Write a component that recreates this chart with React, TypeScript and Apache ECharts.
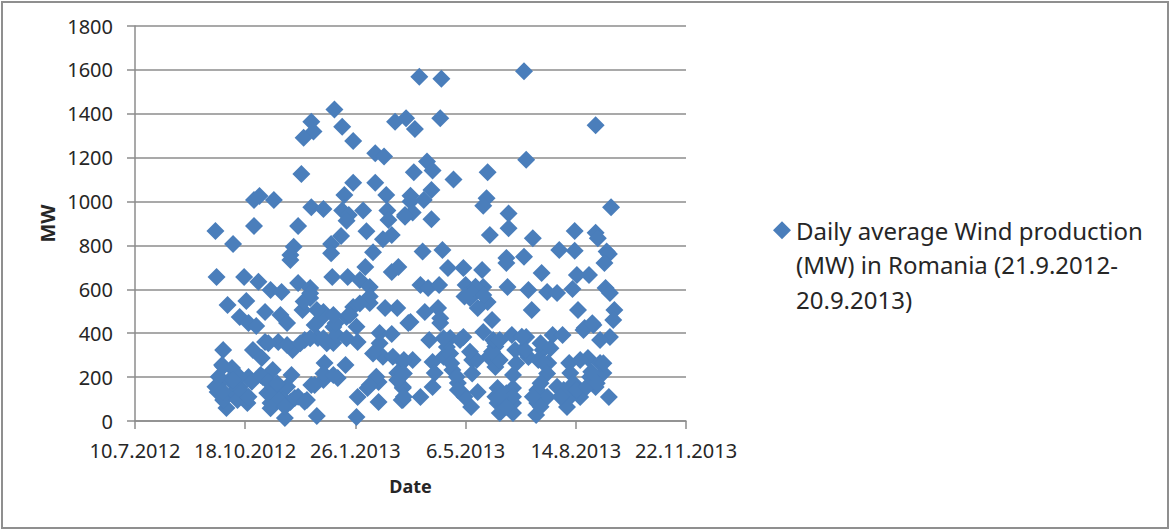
import React, { useEffect, useRef } from "react";
import * as echarts from "echarts";

// Excel-style serial number of 21.9.2012, the first day of the record
const firstDaySerial = 41173;

// Days after the first day of the record
const dayOffsets = [
  108, 87, 115, 89, 80, 125, 145, 153, 78, 125, 145, 40, 35, 53, 117, 155, 87, 98, 115, 121,
  134, 156, 157, 172, 119, 35, 75, 0, 16, 137, 114, 160, 152, 71, 105, 68, 105, 143,
  185, 205, 280, 345, 173, 181, 204, 282, 192, 197, 180, 216, 247, 196, 177, 189, 177, 246, 243, 359,
  179, 172, 196, 266, 266, 249, 288, 326, 345, 347, 188, 206, 312, 326, 355, 357, 264, 280,
  211, 225, 242, 264, 353, 296, 328, 339, 186, 193, 203, 227, 243, 265, 284, 301, 310, 324, 354, 358,
  231, 247, 238, 287, 329, 362, 361, 190, 202, 177, 204, 251, 243, 335, 343, 358, 349, 306, 315, 282,
  269, 254, 194, 213, 225, 210, 233, 254, 254, 279, 297, 302, 321, 338, 349, 352, 322, 197, 179, 170,
  199, 215, 220, 270, 284, 197, 186, 170, 170, 224, 238, 232, 256, 256, 258, 270, 270, 270, 292, 292,
  291, 301, 319, 319, 331, 345, 340, 357,
  1, 26, 39, 106, 120, 136, 131, 160, 166, 68, 75, 50, 60, 86, 140, 11, 28, 79, 86, 140,
  125, 154, 165, 45, 22, 30, 37, 59, 65, 98, 90, 107, 119, 175, 149, 160, 129, 107, 93, 81,
  57, 45, 34, 70, 42, 7, 6, 15, 99, 118, 69, 30, 43, 52, 4, 98, 111, 90, 148, 138,
  165, 170, 169, 129, 148, 2, 16, 10, 29, 50, 59, 83, 72, 63, 92, 128, 22, 13, 22, 7,
  20, 47, 56, 62, 68,
  7, 3, 0, 7, 16, 24, 30, 33, 41, 48, 51, 57, 50, 63, 75, 81, 65, 56,
  48, 65, 77, 86, 98, 110, 101, 119, 96, 109, 92, 107, 131, 122, 128, 80, 86, 140,
  165, 171, 171, 146, 140, 98, 107, 87, 152, 143, 161, 171, 149,
  170, 207, 207, 213, 214, 219, 226, 220, 233, 237, 231, 248, 258, 254, 251,
  272, 273, 281, 278, 293, 298, 301, 288, 295, 295, 310, 316, 325, 328, 319, 313,
  337, 346, 352, 341, 331, 264, 254, 270, 258, 264, 295, 304, 334, 342, 222, 252, 258,
  204, 236, 233, 243, 226, 163,
];

// Daily average output in MW, one value per entry of dayOffsets
const outputMw = [
  1420, 1364, 1341, 1319, 1291, 1276, 1220, 1205, 1126, 1086, 1086, 1025, 1007, 1007, 1030, 1030, 974, 966, 959, 939,
  959, 959, 916, 939, 913, 889, 889, 866, 807, 865, 843, 848, 828, 794, 807, 757, 764, 769,
  1569, 1560, 1594, 1348, 1380, 1331, 1380, 1190, 1182, 1141, 1133, 1101, 1133, 1053, 1027, 1007, 1000, 1015, 981, 974,
  950, 931, 919, 946, 878, 848, 833, 866, 858, 833, 772, 779, 779, 776, 772, 761, 743, 749,
  697, 697, 688, 720, 720, 675, 665, 665, 620, 606, 620, 620, 611, 611, 597, 588, 583, 602, 606, 583,
  561, 542, 515, 506, 506, 506, 460, 497, 515, 451, 447, 460, 406, 424, 438, 383, 369, 392, 392, 383,
  392, 355, 369, 378, 383, 337, 278, 292, 246, 324, 324, 264, 264, 287, 264, 219, 219, 269, 278, 269,
  219, 232, 173, 210, 292, 155, 109, 150, 96, 128, 132, 64, 150, 82, 36, 150, 82, 36, 141, 82,
  27, 109, 64, 128, 109, 155, 201, 109,
  656, 656, 634, 656, 656, 702, 643, 679, 702, 734, 629, 597, 588, 606, 611, 529, 547, 506, 561, 538,
  520, 515, 515, 497, 474, 447, 433, 483, 447, 497, 438, 428, 474, 447, 401, 397, 360, 355, 378, 369,
  360, 360, 324, 324, 287, 324, 255, 242, 264, 255, 210, 201, 201, 232, 173, 187, 196, 164, 178, 150,
  219, 155, 96, 109, 87, 132, 128, 59, 82, 82, 128, 96, 105, 14, 23, 18, 155, 187, 201, 96,
  96, 128, 141, 96, 87,
  248, 202, 156, 134, 187, 134, 111, 179, 210, 179, 119, 96, 58, 65, 111, 88, 156, 172,
  354, 346, 354, 377, 377, 392, 354, 377, 468, 445, 506, 483, 536, 483, 430, 544, 582, 567,
  187, 217, 111, 202, 164, 217, 210, 164, 293, 308, 293, 278, 354,
  217, 377, 293, 308, 263, 202, 111, 141, 217, 278, 316, 293, 278, 339, 316,
  324, 263, 324, 384, 278, 263, 217, 111, 172, 65, 156, 141, 172, 141, 96, 111,
  156, 172, 263, 225, 278, 126, 111, 111, 111, 65, 354, 331, 415, 445, 369, 369, 369,
  468, 612, 582, 574, 567, 1364,
];

const seriesName = "Daily average Wind production\n(MW) in Romania (21.9.2012-\n20.9.2013)";

// Turns an Excel-style serial number into d.m.yyyy
const serialToDate = (serial: number): string => {
  const d = new Date(Date.UTC(1899, 11, 30) + serial * 86400000);
  return `${d.getUTCDate()}.${d.getUTCMonth() + 1}.${d.getUTCFullYear()}`;
};

const textColor = "#262626";
const lineColor = "#8c8c8c";
const fontFamily = "'Noto Sans', sans-serif";

export default function App() {
  const ref = useRef<HTMLDivElement>(null);

  useEffect(() => {
    const chart = echarts.init(ref.current!, undefined, { renderer: "svg" });
    chart.setOption({
      animation: false,
      backgroundColor: "#ffffff",
      grid: { left: 135, right: 487, top: 26, bottom: 109, containLabel: false },
      graphic: [
        {
          type: "rect",
          shape: { x: 2, y: 2, width: 1166, height: 526 },
          style: { fill: "none", stroke: "#8f8f8f", lineWidth: 2 },
          silent: true,
        },
      ],
      legend: {
        left: 773,
        top: 144,
        icon: "diamond",
        itemWidth: 18,
        itemHeight: 18,
        itemGap: 0,
        padding: 0,
        selectedMode: false,
        // Two blank lines above the name keep the marker level with its first line
        formatter: (name: string) => `\n\n${name}`,
        textStyle: {
          color: textColor,
          fontFamily,
          fontSize: 24,
          lineHeight: 34.5,
        },
      },
      xAxis: {
        type: "value",
        min: 41100,
        max: 41600,
        interval: 100,
        name: "Date",
        nameLocation: "middle",
        nameGap: 56,
        nameTextStyle: { color: textColor, fontFamily, fontSize: 18, fontWeight: "bold" },
        axisLine: { show: true, onZero: false, lineStyle: { color: lineColor, width: 1.5 } },
        axisTick: { show: true, length: 8, lineStyle: { color: lineColor, width: 1.5 } },
        axisLabel: {
          color: textColor,
          fontFamily,
          fontSize: 20,
          margin: 19,
          showMinLabel: true,
          showMaxLabel: true,
          hideOverlap: false,
          formatter: (v: number) => serialToDate(v),
        },
        splitLine: { show: false },
      },
      yAxis: {
        type: "value",
        min: 0,
        max: 1800,
        interval: 200,
        name: "MW",
        nameLocation: "middle",
        nameGap: 78,
        nameTextStyle: { color: textColor, fontFamily, fontSize: 20, fontWeight: "bold" },
        axisLine: { show: true, lineStyle: { color: lineColor, width: 1.5 } },
        axisTick: { show: true, length: 8, lineStyle: { color: lineColor, width: 1.5 } },
        axisLabel: {
          color: textColor,
          fontFamily,
          fontSize: 20,
          margin: 22,
          formatter: (v: number) => String(v),
        },
        splitLine: { show: true, lineStyle: { color: lineColor, width: 1.5 } },
      },
      series: [
        {
          type: "scatter",
          name: seriesName,
          symbol: "diamond",
          symbolSize: 18,
          itemStyle: { color: "#4a7ebb", opacity: 1 },
          data: dayOffsets.map((d, i) => [firstDaySerial + d, outputMw[i]]),
        },
      ],
    });
    return () => chart.dispose();
  }, []);

  return (
    <div
      ref={ref}
      style={{ position: "absolute", left: 0, top: 0, width: 1173, height: 530 }}
    />
  );
}
